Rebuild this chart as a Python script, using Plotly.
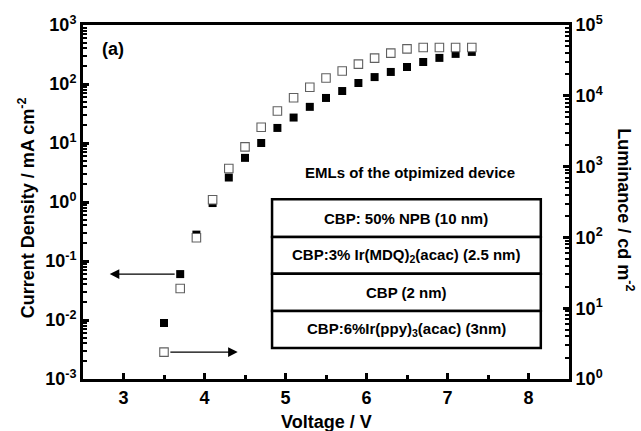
import math
import plotly.graph_objects as go

voltage = [3.5, 3.7, 3.9, 4.1, 4.3, 4.5, 4.7, 4.9, 5.1, 5.3, 5.5, 5.7, 5.9, 6.1, 6.3, 6.5, 6.7, 6.9, 7.1, 7.3]
current_density = [0.0089, 0.06, 0.28, 0.96, 2.6, 5.6, 10, 18, 27, 41, 58, 76, 104, 131, 160, 194, 236, 277, 324, 350]
luminance = [2.4, 19, 99, 340, 940, 1900, 3600, 6100, 9400, 13200, 17800, 22400, 28000, 34000, 40000, 46000, 48000, 48000, 48000, 48000]

x_ticks = [3, 4, 5, 6, 7, 8]
x_minor = [2.5, 3.5, 4.5, 5.5, 6.5, 7.5, 8.5]
left_exps = [-3, -2, -1, 0, 1, 2, 3]
right_exps = [0, 1, 2, 3, 4, 5]

eml_title = "EMLs of the otpimized device"
eml_layers = [
    "CBP: 50% NPB (10 nm)",
    "CBP:3% Ir(MDQ)<sub>2</sub>(acac) (2.5 nm)",
    "CBP (2 nm)",
    "CBP:6%Ir(ppy)<sub>3</sub>(acac) (3nm)",
]

FONT = "Liberation Sans"


def sup_label(e):
    return "<b>10<sup>%s</sup></b>" % e


def minor_vals(exps):
    vals = []
    for e in exps[:-1]:
        for m in range(2, 10):
            vals.append(m * 10 ** e)
    return vals


fig = go.Figure()
fig.add_trace(go.Scatter(
    x=voltage, y=current_density, mode="markers", yaxis="y",
    marker=dict(symbol="square", size=8, color="black", line=dict(width=0)),
    showlegend=False,
))
fig.add_trace(go.Scatter(
    x=voltage, y=luminance, mode="markers", yaxis="y2",
    marker=dict(symbol="square", size=8.5, color="white", line=dict(width=1.1, color="#606060")),
    showlegend=False,
))

axis_common = dict(
    showgrid=False, zeroline=False, showline=True, linewidth=3, linecolor="black",
    ticks="inside", ticklen=6, tickwidth=2.5, tickcolor="black",
    tickfont=dict(family=FONT, size=18, color="black", weight="bold"),
)

fig.update_layout(
    width=641, height=431,
    margin=dict(l=83, r=72, t=25, b=52),
    paper_bgcolor="white", plot_bgcolor="white",
    xaxis=dict(
        range=[2.5, 8.5], tickmode="array", tickvals=x_ticks, ticktext=["<b>%d</b>" % v for v in x_ticks],
        mirror=True,
        minor=dict(tickvals=x_minor, ticks="inside", ticklen=4, tickwidth=2.5, tickcolor="black"),
        **axis_common,
    ),
    yaxis=dict(
        type="log", range=[-3, 3], tickmode="array",
        tickvals=[10 ** e for e in left_exps], ticktext=[sup_label(e) for e in left_exps],
        minor=dict(tickvals=minor_vals(left_exps), ticks="inside", ticklen=4, tickwidth=2, tickcolor="black"),
        **axis_common,
    ),
    yaxis2=dict(
        type="log", range=[0, 5], overlaying="y", side="right", anchor="x",
        tickmode="array",
        tickvals=[10 ** e for e in right_exps], ticktext=[sup_label(e) for e in right_exps],
        minor=dict(tickvals=minor_vals(right_exps), ticks="inside", ticklen=4, tickwidth=2, tickcolor="black"),
        **axis_common,
    ),
)

annotations = []


def txt(text, x, y, size=18, angle=0, xanchor="center"):
    return dict(text="<b>%s</b>" % text, xref="paper", yref="paper", x=x, y=y,
                xanchor=xanchor, yanchor="middle", textangle=angle, showarrow=False,
                font=dict(family=FONT, size=size, color="black"))


# axis titles
annotations.append(txt("Current Density / mA cm<sup>-2</sup>", -0.117, 0.483, angle=-90))
annotations.append(txt("Luminance / cd m<sup>-2</sup>", 1.117, 0.477, angle=90))
annotations.append(txt("Voltage / V", 0.5, -0.122))
annotations.append(txt("(a)", 0.035, 0.932, xanchor="left"))
# arrows
annotations.append(dict(text="", x=2.83, y=math.log10(current_density[1]), xref="x", yref="y",
                        ax=3.65, ay=math.log10(current_density[1]), axref="x", ayref="y",
                        showarrow=True, arrowhead=2, arrowsize=1.6, arrowwidth=1.2, arrowcolor="black",
                        standoff=0, startstandoff=0))
annotations.append(dict(text="", x=4.41, y=math.log10(luminance[0]), xref="x", yref="y2",
                        ax=3.56, ay=math.log10(luminance[0]), axref="x", ayref="y2",
                        showarrow=True, arrowhead=2, arrowsize=1.6, arrowwidth=1.2, arrowcolor="black",
                        standoff=0, startstandoff=0))
# EML box
box_x0, box_x1 = 0.389, 0.942
row_edges = [0.508, 0.401, 0.297, 0.192, 0.0876]
annotations.append(txt(eml_title, 0.673, 0.582, size=15))
shapes = []
for i, label in enumerate(eml_layers):
    top, bot = row_edges[i], row_edges[i + 1]
    shapes.append(dict(type="rect", xref="paper", yref="paper", x0=box_x0, x1=box_x1, y0=bot, y1=top,
                       line=dict(color="black", width=2.5), fillcolor="white", layer="below"))
    annotations.append(txt(label, (box_x0 + box_x1) / 2, (top + bot) / 2, size=15))

fig.update_layout(annotations=annotations, shapes=shapes)
fig.write_html("out.html")
